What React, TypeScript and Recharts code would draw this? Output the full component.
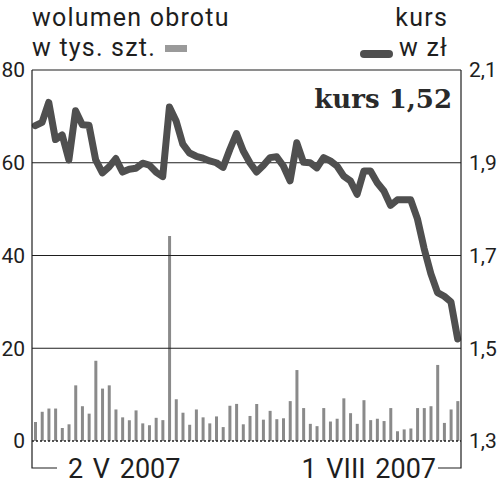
import { ComposedChart, Bar, Line, XAxis, YAxis, ReferenceLine } from "recharts";

// 64 sessions, 2 V 2007 .. 1 VIII 2007
const volume = [
  4.1, 6.3, 7.0, 7.0, 2.8, 3.6, 12.0, 7.5, 5.9, 17.3, 11.3, 12.0, 6.8, 5.1, 4.5, 6.6,
  3.8, 3.4, 5.0, 4.5, 44.2, 9.0, 6.1, 3.5, 6.8, 5.1, 3.8, 5.3, 3.0, 7.6, 8.0, 3.6,
  5.4, 8.0, 4.6, 6.5, 4.7, 4.9, 8.6, 15.3, 7.1, 3.7, 3.2, 7.1, 4.2, 4.8, 9.2, 6.0,
  3.7, 8.8, 4.5, 4.8, 4.3, 7.1, 2.1, 2.5, 2.7, 7.1, 7.1, 7.5, 16.4, 3.9, 6.8, 8.6,
];

const price = [
  1.98, 1.987, 2.03, 1.95, 1.96, 1.906, 2.012, 1.982, 1.981, 1.906, 1.878, 1.891, 1.909, 1.88, 1.886, 1.888,
  1.899, 1.895, 1.88, 1.87, 2.02, 1.99, 1.94, 1.921, 1.914, 1.91, 1.904, 1.9, 1.89, 1.928, 1.963, 1.926,
  1.9, 1.88, 1.894, 1.911, 1.913, 1.893, 1.861, 1.943, 1.901, 1.9, 1.889, 1.911, 1.904, 1.893, 1.871, 1.861,
  1.832, 1.882, 1.882, 1.857, 1.839, 1.808, 1.82, 1.82, 1.82, 1.779, 1.715, 1.661, 1.62, 1.612, 1.6, 1.52,
];

const volumeTicks = [0, 20, 40, 60, 80];
const priceTicks = [1.3, 1.5, 1.7, 1.9, 2.1];
const dateLabels = ["2 V 2007", "1 VIII 2007"];

const data = volume.map((v, i) => ({ session: i, volume: v, price: price[i] }));

const W = 500;
const H = 487;
const LEFT = 32;
const RIGHT = 461;
const TOP = 70;
const BOTTOM = 441;
const INK = "#1e1e1e";
const SANS = "Roboto, 'Liberation Sans', sans-serif";

function DateTick(props: any) {
  const { payload } = props;
  const first = payload.value === 0;
  const y = 468;
  if (first) {
    return (
      <g>
        <path d={`M${LEFT},${BOTTOM}V${y}H${LEFT + 25}`} stroke={INK} fill="none" strokeWidth={1.2} />
        <text x={LEFT + 36} y={y + 10} fontFamily={SANS} fontSize={27} fill={INK} style={{ wordSpacing: 3 }}>
          {dateLabels[0]}
        </text>
      </g>
    );
  }
  return (
    <g>
      <path d={`M${RIGHT},${BOTTOM}V${y}H${RIGHT - 23}`} stroke={INK} fill="none" strokeWidth={1.2} />
      <text x={RIGHT - 25} y={y + 10} textAnchor="end" fontFamily={SANS} fontSize={27} fill={INK} style={{ wordSpacing: 3 }}>
        {dateLabels[1]}
      </text>
    </g>
  );
}

export default function App() {
  const tick = { fill: INK, fontSize: 21, fontFamily: SANS };
  return (
    <div style={{ position: "absolute", left: 0, top: 0, width: W, height: H, background: "#fff" }}>
      <ComposedChart
        width={W}
        height={H}
        data={data}
        margin={{ top: TOP, right: 0, left: 0, bottom: 0 }}
        barCategoryGap="30%"
      >
        <XAxis
          dataKey="session"
          ticks={[0, volume.length - 1]}
          interval={0}
          height={H - BOTTOM}
          axisLine={false}
          tickLine={false}
          tick={<DateTick />}
        />
        <YAxis
          yAxisId="vol"
          domain={[0, 80]}
          ticks={volumeTicks}
          width={LEFT}
          axisLine={{ stroke: INK, strokeWidth: 1.2 }}
          tickLine={false}
          tickMargin={1}
          tick={tick}
          interval={0}
        />
        <YAxis
          yAxisId="price"
          orientation="right"
          domain={[1.3, 2.1]}
          ticks={priceTicks}
          width={W - RIGHT}
          axisLine={{ stroke: INK, strokeWidth: 1.2 }}
          tickLine={false}
          tick={{ ...tick, textAnchor: "start" }}
          tickFormatter={(v: number) => v.toFixed(1).replace(".", ",")}
          interval={0}
        />
        {volumeTicks.slice(1).map((t) => (
          <ReferenceLine key={t} yAxisId="vol" y={t} stroke={INK} strokeWidth={1.2} />
        ))}
        <Bar yAxisId="vol" dataKey="volume" fill="#8a8a8a" isAnimationActive={false} />
        <ReferenceLine yAxisId="vol" y={0} stroke={INK} strokeWidth={1.5} strokeDasharray="2 2" />
        <Line
          yAxisId="price"
          type="linear"
          dataKey="price"
          stroke="#4f4f4f"
          strokeWidth={7}
          strokeLinejoin="round"
          strokeLinecap="round"
          dot={false}
          activeDot={false}
          isAnimationActive={false}
        />
      </ComposedChart>
      <svg width={W} height={H} style={{ position: "absolute", left: 0, top: 0, pointerEvents: "none" }}>
        <g fontFamily={SANS} fontSize={25} fill={INK} letterSpacing={1.2}>
          <text x={LEFT} y={26}>wolumen obrotu</text>
          <text x={LEFT} y={56}>w tys. szt.</text>
          <text x={448} y={26} textAnchor="end">kurs</text>
          <text x={448} y={56} textAnchor="end">w zł</text>
        </g>
        <rect x={165} y={45} width={22} height={7} fill="#9a9a9a" />
        <line x1={364} y1={54} x2={389} y2={54} stroke="#4f4f4f" strokeWidth={8} strokeLinecap="round" />
        <text
          x={452}
          y={108}
          textAnchor="end"
          fontFamily="'DejaVu Serif', serif"
          fontWeight="bold"
          fontSize={26}
          fill="#2a2a2a"
        >
          kurs 1,52
        </text>
      </svg>
    </div>
  );
}
